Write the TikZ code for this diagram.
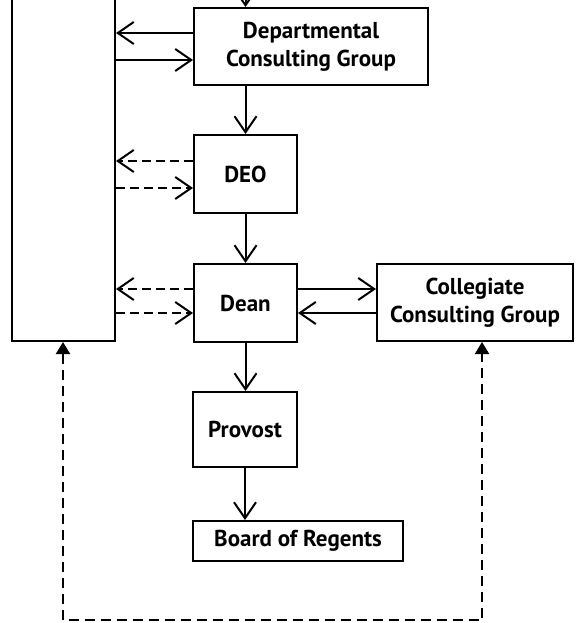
\documentclass[tikz,border=0pt]{standalone}
\usepackage{fontspec}
\setmainfont{PT Sans}
\usetikzlibrary{arrows.meta,positioning,calc}

\begin{document}
\begin{tikzpicture}[x=1pt,y=1pt,
  unit/.style={draw, line width=2pt, inner sep=0pt, align=center,
    font=\bfseries\fontsize{23}{28}\selectfont},
  flow/.style={line width=2pt, -{Straight Barb[length=16pt,width=22pt,line width=2pt]}},
  feed/.style={flow, dash pattern=on 9pt off 5pt},
  loop/.style={line width=2pt, dash pattern=on 10pt off 6pt,
    {Triangle[length=12pt,width=14pt]}-{Triangle[length=12pt,width=14pt]}}]
\useasboundingbox (0,0) rectangle (575,-623);
\clip (0,0) rectangle (575,-623);

% units
\node[unit, minimum width=103pt, minimum height=381pt] (faculty) at (63.5,-150.5) {};
\node[unit, minimum width=234pt, minimum height=77pt] (dcg) at (311,-46.5) {Departmental\\Consulting Group};
\node[unit, minimum width=103pt, minimum height=78pt] (deo) at (245.5,-174) {DEO};
\node[unit, minimum width=103pt, minimum height=78pt] (dean) at (245.5,-303) {Dean};
\node[unit, minimum width=196pt, minimum height=77pt] (ccg) at (475,-302.5) {Collegiate\\Consulting Group};
\node[unit, minimum width=104pt, minimum height=75pt] (provost) at (245,-429.5) {Provost};
\node[unit, minimum width=210pt, minimum height=40pt] (bor) at (298,-541) {Board of Regents};

\coordinate (entry) at (245.5,20);
\coordinate (loopL) at (63,-620);
\coordinate (loopR) at (482,-620);

% chain down
\draw[flow] (entry) -- (entry |- dcg.north);
\draw[flow] (deo.north |- dcg.south) -- (deo.north);
\draw[flow] (deo.south) -- (dean.north);
\draw[flow] (dean.south) -- (dean.south |- provost.north);
\draw[flow] (provost.south) -- (provost.south |- bor.north);

% side links
\coordinate (d1) at ([yshift=13.5pt]dcg.west);
\coordinate (d2) at ([yshift=-13.5pt]dcg.west);
\draw[flow] (d1) -- (d1 -| faculty.east);
\draw[flow] (d2 -| faculty.east) -- (d2);

\coordinate (e1) at ([yshift=13pt]deo.west);
\coordinate (e2) at ([yshift=-14pt]deo.west);
\draw[feed] (e1) -- (e1 -| faculty.east);
\draw[feed] (e2 -| faculty.east) -- (e2);

\coordinate (n1) at ([yshift=14pt]dean.west);
\coordinate (n2) at ([yshift=-10pt]dean.west);
\draw[feed] (n1) -- (n1 -| faculty.east);
\draw[feed] (n2 -| faculty.east) -- (n2);

\coordinate (c1) at ([yshift=14pt]dean.east);
\coordinate (c2) at ([yshift=-10pt]dean.east);
\draw[flow] (c1) -- (c1 -| ccg.west);
\draw[flow] (c2 -| ccg.west) -- (c2);

% feedback loop
\draw[loop] (faculty.south -| loopL) -- (loopL) -- (loopR) -- (ccg.south -| loopR);
\end{tikzpicture}
\end{document}
